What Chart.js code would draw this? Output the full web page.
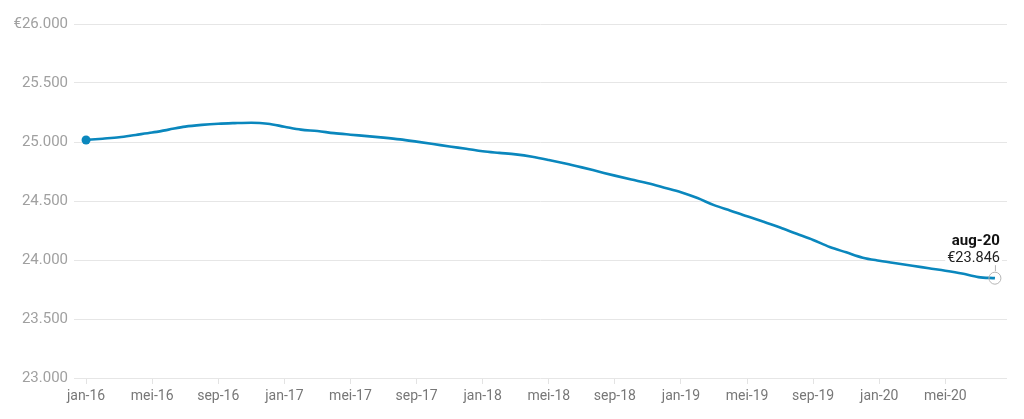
<!DOCTYPE html>
<html>
<head>
<meta charset="utf-8">
<script src="https://cdn.jsdelivr.net/npm/chart.js@4/dist/chart.umd.min.js"></script>
<style>
html,body{margin:0;padding:0;background:#fff;}
#wrap{width:1024px;height:419px;position:relative;}
</style>
</head>
<body>
<div id="wrap"><canvas id="c" width="1024" height="419"></canvas></div>
<script>
// Month labels (jan-16 .. aug-20)
const monthNames = ['jan','feb','mrt','apr','mei','jun','jul','aug','sep','okt','nov','dec'];
const categories = [];
for (let y = 16; y <= 20; y++) {
  for (let m = 0; m < 12; m++) {
    if (y === 20 && m > 7) break;
    categories.push(monthNames[m] + '-' + y);
  }
}
// Series values (euro)
const values = [
  25017, 25028, 25040, 25060, 25080, 25105, 25130, 25145, 25155, 25160, 25163, 25155,
  25130, 25105, 25093, 25075, 25062, 25050, 25037, 25022, 25003, 24983, 24962, 24943,
  24922, 24908, 24895, 24875, 24848, 24818, 24785, 24750, 24715, 24682, 24650, 24613,
  24575, 24525, 24465, 24418, 24370, 24325, 24275, 24222, 24170, 24110, 24065, 24020,
  23994, 23972, 23952, 23930, 23909, 23885, 23855, 23846
];
const yTicks = [23000, 23500, 24000, 24500, 25000, 25500, 26000];
const xTickIndices = [0, 4, 8, 12, 16, 20, 24, 28, 32, 36, 40, 44, 48, 52];

function fmt(v) {
  return Math.round(v).toString().replace(/\B(?=(\d{3})+(?!\d))/g, '.');
}

const lineColor = '#0a87bd';
const FONT = 'Roboto, "Noto Sans", sans-serif';

const lastIdx = values.length - 1;

const annotationPlugin = {
  id: 'endLabel',
  afterDatasetsDraw(chart) {
    const ctx = chart.ctx;
    const xs = chart.scales.x, ys = chart.scales.y;
    const px = xs.getPixelForValue(lastIdx);
    const py = ys.getPixelForValue(values[lastIdx]);
    ctx.save();
    // connector line
    ctx.strokeStyle = '#b5b5b5';
    ctx.lineWidth = 1;
    ctx.beginPath();
    ctx.moveTo(px + 0.5, py - 7);
    ctx.lineTo(px + 0.5, py - 13);
    ctx.stroke();
    const rx = px + 5;
    ctx.textAlign = 'right';
    ctx.textBaseline = 'alphabetic';
    ctx.font = '14.5px ' + FONT;
    const t2 = '€' + fmt(values[lastIdx]);
    const w2 = ctx.measureText(t2).width;
    ctx.fillStyle = '#ffffff';
    ctx.fillRect(rx - w2 - 2, py - 31, w2 + 4, 16);
    ctx.fillStyle = '#222';
    ctx.fillText(t2, rx, py - 16);
    ctx.font = 'bold 15px ' + FONT;
    ctx.fillStyle = '#111';
    ctx.fillText(categories[lastIdx], rx, py - 33);
    ctx.restore();
  }
};

new Chart(document.getElementById('c'), {
  type: 'line',
  data: {
    datasets: [{
      data: values.map((v, i) => ({x: i, y: v})),
      borderColor: lineColor,
      borderWidth: 2.6,
      tension: 0.4,
      cubicInterpolationMode: 'monotone',
      fill: false,
      pointRadius: ctx => ctx.dataIndex === 0 ? 4.5 : (ctx.dataIndex === lastIdx ? 6 : 0),
      pointBackgroundColor: ctx => ctx.dataIndex === 0 ? lineColor : 'rgba(255,255,255,0)',
      pointBorderColor: ctx => ctx.dataIndex === 0 ? lineColor : '#b5b5b5',
      pointBorderWidth: ctx => ctx.dataIndex === 0 ? 0 : 1,
      pointHoverRadius: 0
    }]
  },
  options: {
    responsive: false,
    animation: false,
    events: [],
    layout: { padding: { top: 24, right: 17, left: 0, bottom: 0 } },
    plugins: { legend: { display: false }, tooltip: { enabled: false } },
    scales: {
      x: {
        type: 'linear',
        min: -0.73,
        max: lastIdx + 0.73,
        afterBuildTicks: s => { s.ticks = xTickIndices.map(v => ({value: v})); },
        afterFit: s => { s.height = 41; },
        border: { display: false },
        grid: { drawOnChartArea: false, drawTicks: true, tickLength: 6, color: '#e3e3e3' },
        ticks: {
          autoSkip: false,
          maxRotation: 0,
          padding: 4,
          color: '#777',
          font: { family: FONT, size: 14 },
          callback: v => categories[v]
        }
      },
      y: {
        min: 23000,
        max: 26000,
        afterBuildTicks: s => { s.ticks = yTicks.map(v => ({value: v})); },
        afterFit: s => { s.width = 74; },
        border: { display: false },
        grid: { drawTicks: false, color: '#e6e6e6', lineWidth: 1 },
        ticks: {
          padding: 6,
          color: '#a0a0a0',
          font: { family: FONT, size: 15 },
          callback: v => (v === 26000 ? '€' : '') + fmt(v)
        }
      }
    }
  },
  plugins: [annotationPlugin]
});
</script>
</body>
</html>
